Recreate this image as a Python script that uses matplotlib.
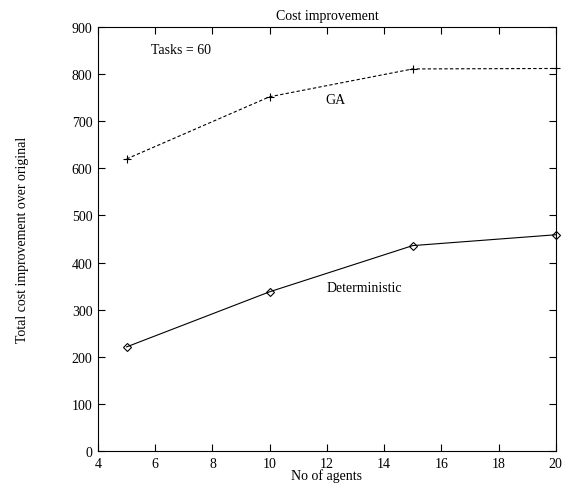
import matplotlib
matplotlib.use('Agg')
import matplotlib.pyplot as plt

plt.rcParams['font.family'] = ['Liberation Serif', 'DejaVu Serif']

# data
agents = [5, 10, 15, 20]
ga_cost = [620, 752, 811, 812]
det_cost = [221, 338, 436, 459]

fig = plt.figure(figsize=(5.7, 4.89), dpi=100)
ax = fig.add_axes([0.172, 0.0757, 0.803, 0.867])

ax.plot(agents, ga_cost, color='black', linestyle='--', dashes=(3, 2), linewidth=0.8,
        marker='+', markersize=6, markeredgewidth=0.8, clip_on=False)
ax.plot(agents, det_cost, color='black', linestyle='-', linewidth=0.8,
        marker='D', markersize=4, fillstyle='none', markeredgewidth=0.8, clip_on=False)

ax.text(5.85, 853, 'Tasks = 60', fontsize=10, va='center')
ax.text(11.94, 747, 'GA', fontsize=10, va='center')
ax.text(12.0, 348, 'Deterministic', fontsize=10, va='center')

ax.set_xlim(4, 20)
ax.set_ylim(0, 900)
ax.set_xticks(range(4, 21, 2))
ax.set_yticks(range(0, 901, 100))
ax.tick_params(direction='in', top=True, right=True, length=5, width=0.8, labelsize=10, pad=4)
for s in ax.spines.values():
    s.set_linewidth(0.8)

ax.set_title('Cost improvement', fontsize=10, pad=6)
ax.set_xlabel('No of agents', fontsize=10, labelpad=-1)
ax.set_ylabel('Total cost improvement over original', fontsize=10, labelpad=31)

fig.savefig('out.png', dpi=100)
